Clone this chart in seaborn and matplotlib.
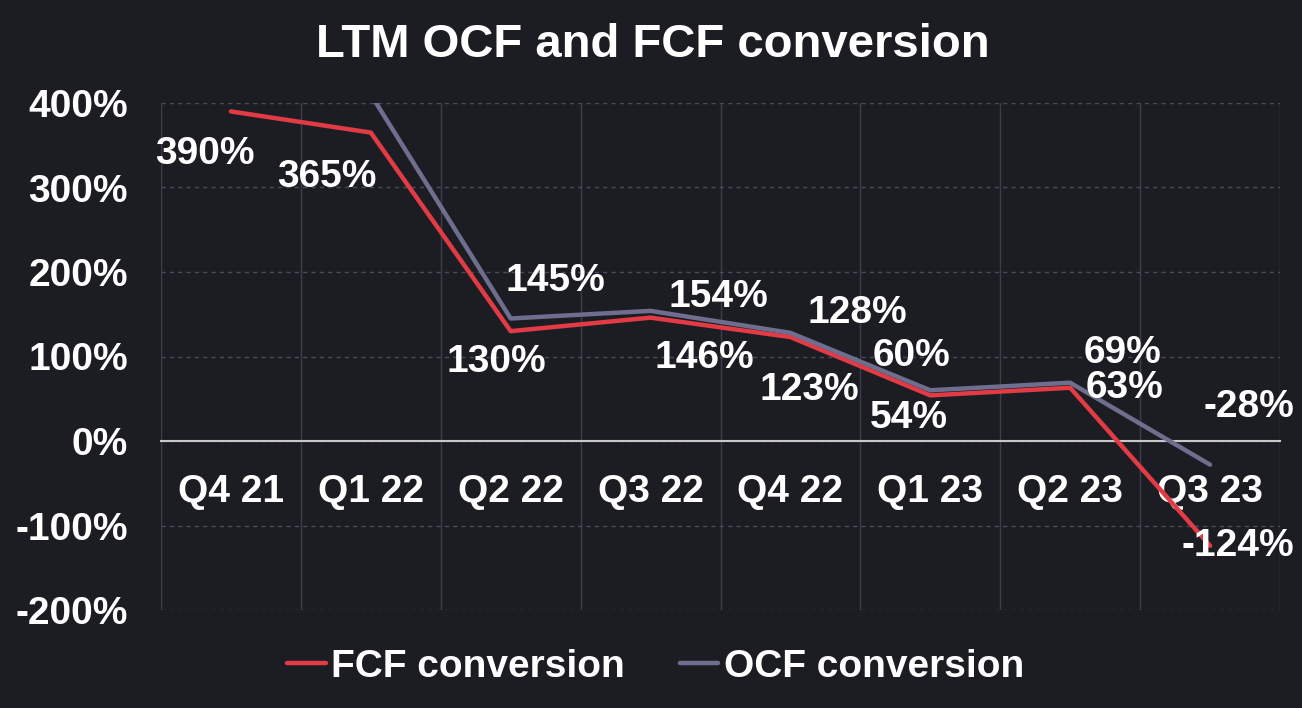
import numpy as np
import pandas as pd
import matplotlib
matplotlib.use("Agg")
import matplotlib.pyplot as plt
import seaborn as sns

# ---- data ----
quarters = ["Q4 21", "Q1 22", "Q2 22", "Q3 22", "Q4 22", "Q1 23", "Q2 23", "Q3 23"]
fcf_conversion = [390, 365, 130, 146, 123, 54, 63, -124]
ocf_conversion = [np.nan, 410, 145, 154, 128, 60, 69, -28]
y_ticks = [-200, -100, 0, 100, 200, 300, 400]
series_names = ["FCF conversion", "OCF conversion"]

# label placement (pixel offsets from point)
fcf_label_offsets = [(-26, -43), (-44, -44), (-14, -31), (54, -40), (19, -53), (-21, -23), (54, 0), (28, 0)]
ocf_label_offsets = [(0, 0), (0, 0), (45, 37), (68, 14), (67, 20), (-19, 34), (52, 30), (39, 58)]

BG = "#1c1d23"
RED = "#e23b45"
GREY = "#6e6e8e"
GRID = "#4a4a5e"

sns.set_theme(style="dark")
plt.rcParams["font.family"] = ["Liberation Sans", "DejaVu Sans"]
plt.rcParams["font.weight"] = "bold"

pos = np.arange(len(quarters))
df = pd.DataFrame({
    "pos": np.concatenate([pos, pos]),
    "value": fcf_conversion + ocf_conversion,
    "series": [series_names[0]] * len(quarters) + [series_names[1]] * len(quarters),
})

fig = plt.figure(figsize=(13.02, 7.08), dpi=100, facecolor=BG)
ax = fig.add_axes([161 / 1302, 1 - 610 / 708, (1280 - 161) / 1302, (610 - 103) / 708])
ax.set_facecolor(BG)

sns.lineplot(data=df, x="pos", y="value", hue="series", hue_order=series_names,
             palette=[RED, GREY], linewidth=3.2, ax=ax, sort=False)

ax.set_xlim(-0.5, len(quarters) - 0.5)
ax.set_ylim(y_ticks[0], y_ticks[-1])
ax.set_xlabel("")
ax.set_ylabel("")

ax.set_xticks(pos)
ax.set_xticklabels(quarters)
ax.set_xticks(np.arange(-0.5, len(quarters), 1.0), minor=True)
ax.set_yticks(y_ticks)
ax.set_yticklabels([f"{v}%" for v in y_ticks])

ax.tick_params(axis="x", which="both", length=0, pad=24, labelsize=28, labelcolor="white")
ax.tick_params(axis="y", length=0, pad=24, labelsize=28, labelcolor="white")
for t in ax.get_xticklabels() + ax.get_yticklabels():
    t.set_fontweight("bold")

ax.grid(False)
ax.grid(which="major", axis="y", color=GRID, linestyle=(0, (3, 3)), linewidth=1)
ax.grid(which="minor", axis="x", color="#3c3c4e", linestyle="-", linewidth=1)

for s in ["top", "right", "left"]:
    ax.spines[s].set_visible(False)
ax.spines["bottom"].set_position(("data", 0))
ax.spines["bottom"].set_color("#c8c8c8")
ax.spines["bottom"].set_linewidth(1.5)
ax.spines["bottom"].set_zorder(1)

# data labels
for vals, offs in [(fcf_conversion, fcf_label_offsets), (ocf_conversion, ocf_label_offsets)]:
    for i, v in enumerate(vals):
        if np.isnan(v) or v > y_ticks[-1] or v < y_ticks[0]:
            continue
        ax.annotate(f"{v:.0f}%", xy=(i, v), xytext=offs[i], textcoords="offset pixels",
                    ha="center", va="center", fontsize=28, fontweight="bold", color="white",
                    annotation_clip=False)

# legend
handles, labels = ax.get_legend_handles_labels()
if ax.legend_ is not None:
    ax.legend_.remove()
fig.legend(handles, labels, loc="center", bbox_to_anchor=(0.5035, 0.058), ncol=2, frameon=False,
           prop={"weight": "bold", "size": 28}, labelcolor="white", handlelength=1.0,
           handletextpad=0.15, columnspacing=1.4)

fig.text(0.5015, 0.936, "LTM OCF and FCF conversion", ha="center", va="center",
         fontsize=34, fontweight="bold", color="white")

fig.savefig("out.png", dpi=100, facecolor=BG)
